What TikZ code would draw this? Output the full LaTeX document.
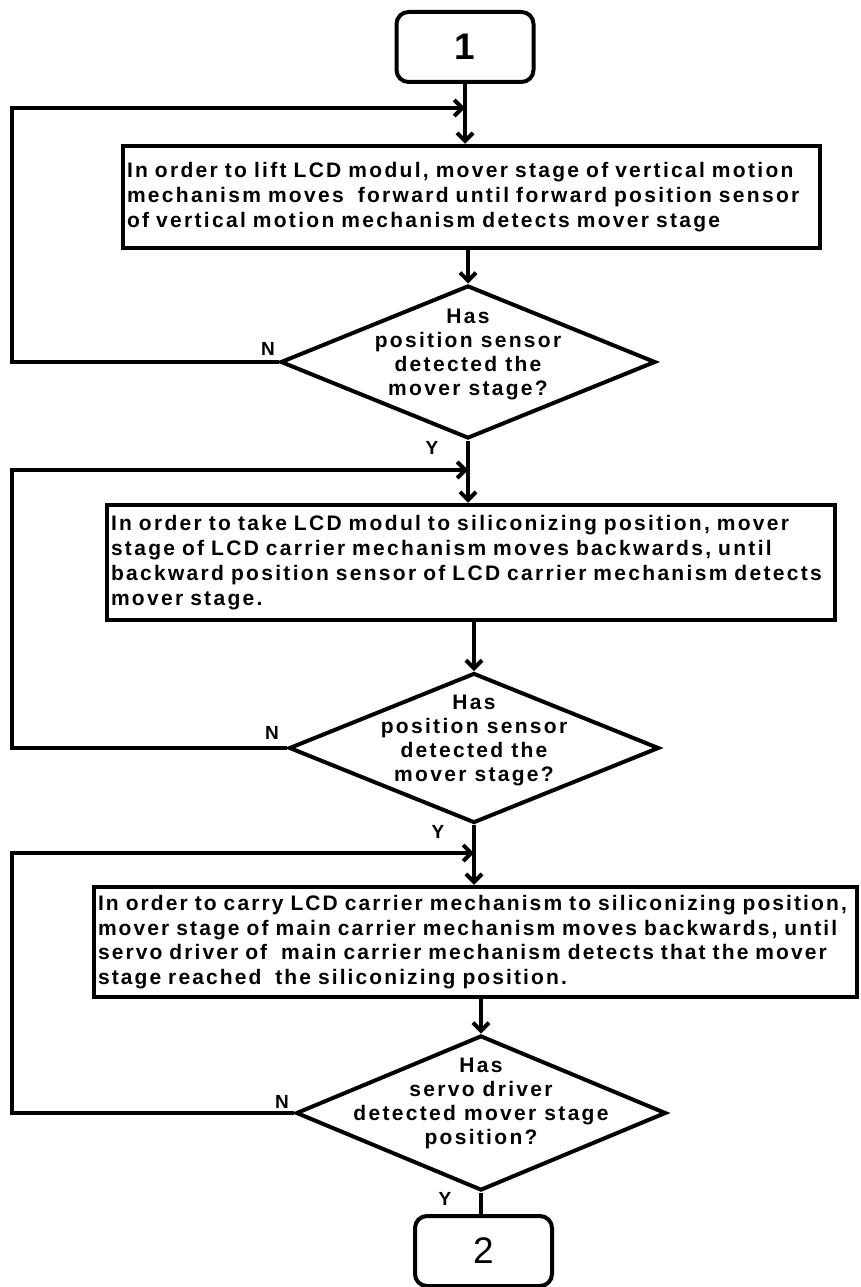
\documentclass[tikz,border=0pt]{standalone}
\usepackage{fontspec}
\setmainfont{Liberation Sans}
\newfontfamily\flowfont{Liberation Sans}[LetterSpace=11]
\newfontfamily\flowfonttight{Liberation Sans}[LetterSpace=10]
\usetikzlibrary{shapes.geometric,arrows.meta}
\tikzset{
  proc/.style={draw, line width=4.5pt, rectangle, inner xsep=4pt, inner ysep=0pt,
    align=left, font=\flowfont\bfseries\fontsize{21}{25}\selectfont},
  term/.style={draw, line width=4pt, rounded corners=12pt, minimum width=137pt,
    minimum height=70pt, inner sep=0pt, font=\fontsize{37}{40}\selectfont},
  dia/.style={draw, diamond, line width=4pt, inner sep=0pt},
  dtext/.style={align=center, font=\flowfont\bfseries\fontsize{21}{24}\selectfont},
  lbl/.style={font=\bfseries\fontsize{19}{20}\selectfont, inner sep=0pt},
  flow/.style={line width=4pt, -{Straight Barb[length=8pt,width=16pt]}},
  plain/.style={line width=4pt},
}
\begin{document}
\begin{tikzpicture}[x=1pt,y=-1pt]
\useasboundingbox (0,0) rectangle (860,1287);
\fill[white] (0,0) rectangle (860,1287);

% terminals
\node[term, font=\bfseries\fontsize{37}{40}\selectfont] (n1) at (465,47) {1};
\node[term] (n2) at (483.5,1251) {2};

% process boxes
\node[proc, text width=689pt, minimum height=102pt] (b1) at (471.5,197)
 {In order to lift LCD modul, mover stage of vertical motion\\
  mechanism moves\ \ forward\ until forward position sensor\\
  of vertical motion mechanism detects mover stage};
\node[proc, text width=720pt, minimum height=115pt] (b2) at (471,562.5)
 {In order to take LCD modul to siliconizing position, mover\\
  stage of LCD carrier mechanism moves backwards, until\\
  backward position sensor of LCD carrier mechanism detects\\
  mover stage.};
\node[proc, text width=755pt, minimum height=110pt,
  font=\flowfonttight\bfseries\fontsize{21}{24.5}\selectfont] (b3) at (475.5,942)
 {In order to carry LCD carrier mechanism to siliconizing position,\\
  mover stage of main carrier mechanism moves backwards, until\\
  servo driver of\ \ main carrier mechanism detects that the mover\\
  stage reached\ \ the siliconizing position.};

% decisions
\node[dia, minimum width=375pt, minimum height=153pt,
  label={[dtext, yshift=8pt]center:{Has\\position sensor\\detected the\\mover stage?}}] (d1) at (468,362) {};
\node[dia, minimum width=370pt, minimum height=150pt,
  label={[dtext, yshift=8pt]center:{Has\\position sensor\\detected the\\mover stage?}}] (d2) at (474,748) {};
\node[dia, minimum width=370pt, minimum height=155pt,
  label={[dtext, yshift=10pt]center:{Has\\servo driver\\detected mover stage\\position?}}] (d3) at (481,1113) {};

% junction points and loop corners
\coordinate (j1) at (465,108);
\coordinate (j2) at (468,470);
\coordinate (j3) at (474,853);
\coordinate (L1) at (12,108);
\coordinate (L2) at (12,470);
\coordinate (L3) at (12,853);

% main flow
\draw[flow] (n1.south) -- (n1.south |- b1.north);
\draw[flow] (b1.south -| d1.north) -- (d1.north);
\draw[flow] (d1.south) -- (d1.south |- b2.north);
\draw[flow] (b2.south -| d2.north) -- (d2.north);
\draw[flow] (d2.south) -- (d2.south |- b3.north);
\draw[flow] (b3.south -| d3.north) -- (d3.north);
\draw[plain] (d3.south) -- (d3.south |- n2.north);

% loops
\draw[flow] (d1.west) -| (L1) -- (j1);
\draw[flow] (d2.west) -| (L2) -- (j2);
\draw[flow] (d3.west) -| (L3) -- (j3);

% labels
\node[lbl] (N1) at (268,349) {N};
\node[lbl] (Y1) at (432,448) {Y};
\node[lbl] (N2) at (272,733) {N};
\node[lbl] (Y2) at (438,832) {Y};
\node[lbl] (N3) at (282,1102) {N};
\node[lbl] (Y3) at (445,1199) {Y};
\end{tikzpicture}
\end{document}
